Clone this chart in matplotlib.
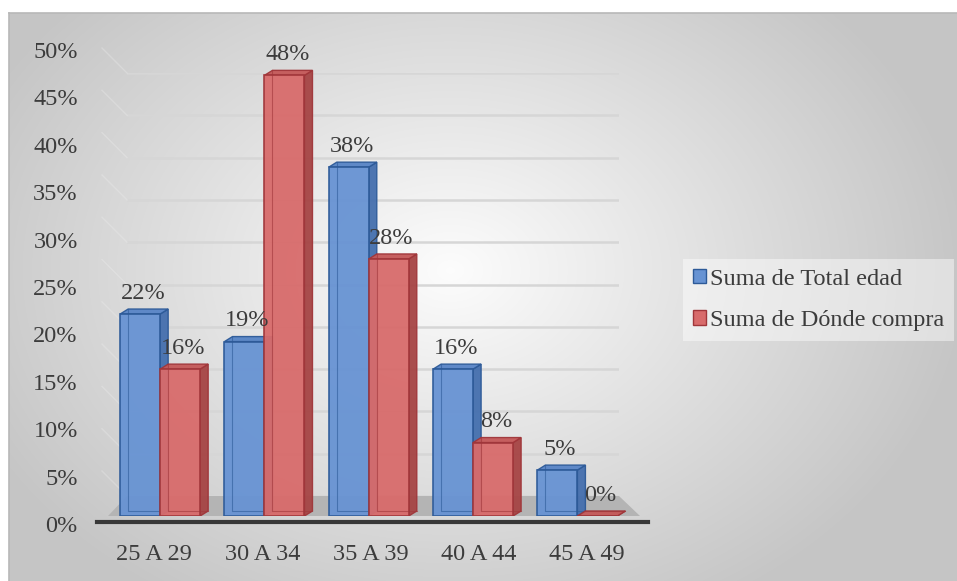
import numpy as np
import matplotlib
matplotlib.use("Agg")
import matplotlib.pyplot as plt
from matplotlib.patches import Patch, Polygon
from matplotlib.lines import Line2D

# data
categories = ["25 A 29", "30 A 34", "35 A 39", "40 A 44", "45 A 49"]
total_edad = [22, 19, 38, 16, 5]
donde_compra = [16, 48, 28, 8, 0]
series_names = ["Suma de Total edad", "Suma de Dónde compra"]
y_ticks = [0, 5, 10, 15, 20, 25, 30, 35, 40, 45, 50]

W, H = 957, 581
plt.rcParams["font.family"] = ["Liberation Serif", "DejaVu Serif"]
text_color = "#3c3c3c"
fs = 17.5

blue = dict(front="#6793d3", side="#446fae", top="#5784c6", edge="#2d5a98")
red = dict(front="#d86b6b", side="#a64444", top="#c45858", edge="#a0363a")

fig = plt.figure(figsize=(W / 100, H / 100), dpi=100)
fig.patch.set_facecolor("white")


def px_axes(left, top, right, bottom, **kw):
    return fig.add_axes([left / W, 1 - bottom / H, (right - left) / W, (bottom - top) / H], **kw)


def bare(a):
    a.patch.set_alpha(0)
    for s in a.spines.values():
        s.set_visible(False)


# chart area with soft radial gradient
bg = px_axes(9, 13, W, H)
gx, gy = np.meshgrid(np.arange(9, W), np.arange(13, H))
r = np.sqrt(((gx - 450) / 600) ** 2 + ((gy - 270) / 450) ** 2)
shade = np.clip(0.99 - 0.25 * r, 0.775, 1.0)
bg.imshow(np.dstack([shade] * 3), aspect="auto", extent=(0, 1, 0, 1), origin="upper")
bg.set_xticks([])
bg.set_yticks([])
for side in ["right", "bottom"]:
    bg.spines[side].set_visible(False)
for side in ["top", "left"]:
    bg.spines[side].set_color("#b8b8b8")
    bg.spines[side].set_linewidth(1.2)

# back wall with gridlines
ax_back = px_axes(127, 73, 619, 496)
bare(ax_back)
ax_back.set_xlim(0, 1)
ax_back.set_ylim(0, 50)
ax_back.set_yticks(y_ticks)
ax_back.set_xticks([])
ax_back.tick_params(length=0, labelleft=False)
ax_back.grid(axis="y", color="#d6d6d6", linewidth=1.8)
wall_dx = 25 / 492
wall_dy = 25 / (423 / 50)
for v in y_ticks:
    ax_back.plot([0, -wall_dx], [v, v + wall_dy], color="#ececec", lw=1.0, alpha=0.35,
                 clip_on=False)

# y tick labels
ax_lab = px_axes(82, 50, 83, 524)
bare(ax_lab)
ax_lab.set_ylim(0, 50)
ax_lab.set_yticks(y_ticks)
ax_lab.set_yticklabels([f"{v}%" for v in y_ticks])
ax_lab.set_xticks([])
ax_lab.tick_params(length=0, pad=3, labelsize=fs, labelcolor=text_color)

# x tick labels
ax_xl = px_axes(100, 515, 700, 516)
bare(ax_xl)
ax_xl.set_xlim(-0.499, 5.044)
ax_xl.set_yticks([])
ax_xl.set_xticks(range(len(categories)))
ax_xl.set_xticklabels(categories)
ax_xl.tick_params(axis="x", length=0, pad=20, labelsize=fs, labelcolor=text_color)

# front plane (bars)
ax = px_axes(108, 57, 640, 516)
bare(ax)
ax.set_xlim(-0.5, 4.6)
ax.set_ylim(0, 50)
ax.set_yticks([])
ax.set_xticks([])

to_ax = ax.transAxes.inverted()
# floor
fl = ax_back.transAxes.transform([(1, 0), (0, 0)])
b1, b0 = to_ax.transform(fl)
floor = Polygon([(0, 0), (1, 0), tuple(b1), tuple(b0)], closed=True, transform=ax.transAxes,
                facecolor="#b4b4b4", edgecolor="none", clip_on=False, zorder=0)
ax.add_patch(floor)
d = ax.transAxes.transform([(0, 0), (1, 0)])
l0 = to_ax.transform(d + np.array([[-11, -6], [8, -6]]))
ax.add_line(Line2D(l0[:, 0], l0[:, 1], transform=ax.transAxes, color="#383838", lw=3,
                   clip_on=False, zorder=1))

# bar geometry in data units
px_x = 5.1 / 532
px_y = 50 / 459
bw = 40 * px_x
dx, dy = 8 * px_x, 5 * px_y


def bar3d(x0, h, col, z):
    x1 = x0 + bw
    ax.bar(x0, h, bw, align="edge", color=col["front"], edgecolor=col["edge"], lw=1.2,
           alpha=0.95, zorder=z + 0.3)
    ax.fill([x1, x1 + dx, x1 + dx, x1], [0, dy, h + dy, h], color=col["side"],
            ec=col["edge"], lw=1.0, zorder=z + 0.2, alpha=0.95)
    ax.fill([x0, x1, x1 + dx, x0 + dx], [h, h, h + dy, h + dy], color=col["top"],
            ec=col["edge"], lw=1.0, zorder=z + 0.2, alpha=0.95)
    ax.plot([x0 + dx, x0 + dx, x1 + dx], [h + dy, dy, dy], color=col["edge"], lw=0.8,
            alpha=0.6, zorder=z + 0.35)


for i, (a, b) in enumerate(zip(total_edad, donde_compra)):
    bar3d(i - bw, a, blue, 2 + i)
    bar3d(i, b, red, 2.5 + i)
    for x, v in ((i - bw / 2, a), (i + bw / 2, b)):
        ax.annotate(f"{v}%", (x, v), xytext=(2, 11), textcoords="offset points",
                    ha="center", va="baseline", fontsize=fs, color=text_color, zorder=20)

handles = [Patch(facecolor=blue["front"], edgecolor=blue["edge"]),
           Patch(facecolor=red["front"], edgecolor=red["edge"])]
leg = fig.legend(handles, series_names, loc="center left", bbox_to_anchor=(683 / W, 1 - 300 / H),
                 fontsize=fs, frameon=True, fancybox=False, handlelength=0.55, handleheight=0.55,
                 handletextpad=0.15, labelspacing=0.85, borderpad=0.4, borderaxespad=0)
leg.get_frame().set_facecolor("white")
leg.get_frame().set_alpha(0.45)
leg.get_frame().set_edgecolor("none")
for t in leg.get_texts():
    t.set_color(text_color)

fig.savefig("out.png", dpi=100, facecolor=fig.get_facecolor())
